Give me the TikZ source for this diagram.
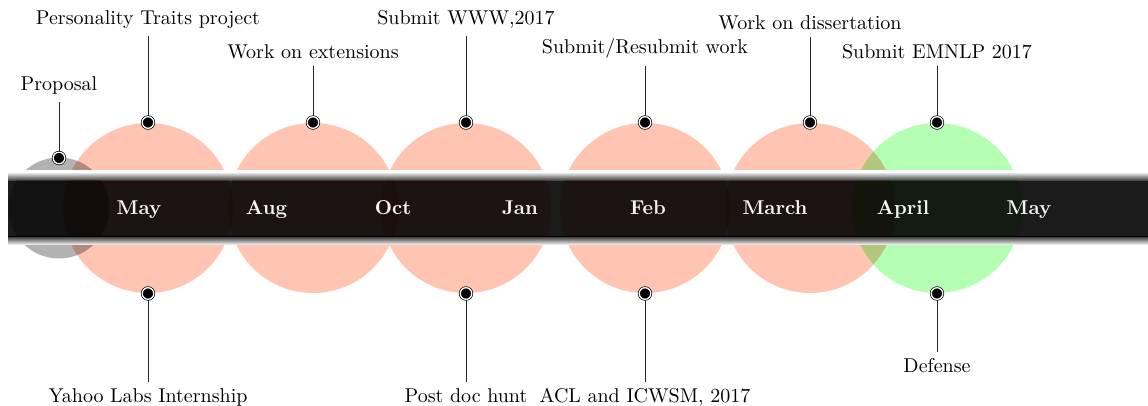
\documentclass[tikz,border=0pt]{standalone}
\definecolor{salmonc}{RGB}{255,197,178}
\definecolor{grayc}{RGB}{178,178,178}
\definecolor{greenc}{RGB}{180,255,180}
\definecolor{bandc}{RGB}{27,27,27}
\begin{document}
\begin{tikzpicture}[x=0.5pt,y=-0.5pt,
  disc/.style={circle, inner sep=0pt, minimum size=#1, draw=none},
  evdot/.style={circle, fill=black, draw=black, double=white, line width=0.35pt, double distance=0.65pt, inner sep=0pt, minimum size=5.8pt},
  evlab/.style={anchor=base, inner sep=3.33pt},
  month/.style={anchor=base, font=\bfseries, text=white!96!black},
  conn/.style={draw=black!85, line width=0.5pt}]
\useasboundingbox (0,0) rectangle (1148,406);
% circles
\begin{scope}[blend mode=multiply]
\node[disc=50.5pt, fill=grayc] (c0) at (59,208) {};
\node[disc=85pt, fill=salmonc] (c1) at (148,208) {};
\node[disc=85pt, fill=salmonc] (c2) at (313,208) {};
\node[disc=85pt, fill=salmonc] (c3) at (466,208) {};
\node[disc=85pt, fill=salmonc] (c4) at (645,208) {};
\node[disc=85pt, fill=salmonc] (c5) at (810,208) {};
\node[disc=85pt, fill=greenc] (c6) at (937,208) {};
\end{scope}
% band
\fill[white] (8,170) rectangle (1148,173.5);
\shade[top color=white!85!black, bottom color=black!80] (8,173.5) rectangle (1148,181);
\fill[bandc] (8,181) rectangle (1148,236);
\fill[black] (8,236) rectangle (1148,238);
\shade[top color=black!65, bottom color=white] (8,238) rectangle (1148,245);
% tint of the circles inside the band
\begin{scope}
\clip (8,181) rectangle (1148,236);
\begin{scope}[blend mode=multiply]
\fill[grayc] (c0.center) circle[radius=25.25pt];
\foreach \c in {c1,c2,c3,c4,c5} {\fill[salmonc] (\c.center) circle[radius=42.5pt];}
\fill[greenc] (c6.center) circle[radius=42.5pt];
\end{scope}
\end{scope}
% months
\node[month] (m1) at (139,214.5) {May};
\node[month] (m2) at (266.5,214.5) {Aug};
\node[month] (m3) at (393,214.5) {Oct};
\node[month] (m4) at (520,214.5) {Jan};
\node[month] (m5) at (648,214.5) {Feb};
\node[month] (m6) at (775,214.5) {March};
\node[month] (m7) at (903,214.5) {April};
\node[month] (m8) at (1029,214.5) {May};
% dots
\node[evdot] (d0) at (59,158) {};
\node[evdot] (t1) at (148,122.5) {};
\node[evdot] (t2) at (313,122.5) {};
\node[evdot] (t3) at (466,122.5) {};
\node[evdot] (t4) at (645,122.5) {};
\node[evdot] (t5) at (810,122.5) {};
\node[evdot] (t6) at (937,122.5) {};
\node[evdot] (b1) at (148,293.5) {};
\node[evdot] (b3) at (466,293.5) {};
\node[evdot] (b4) at (645,293.5) {};
\node[evdot] (b6) at (937,293.5) {};
% labels
\node[evlab] (l0) at (59,90.7) {Proposal};
\node[evlab] (l1) at (148,25) {Personality Traits project};
\node[evlab] (l2) at (313,59) {Work on extensions};
\node[evlab] (l3) at (466,25) {Submit WWW,2017};
\node[evlab] (l4) at (645,54) {Submit/Resubmit work};
\node[evlab] (l5) at (810,30) {Work on dissertation};
\node[evlab] (l6) at (937,59) {Submit EMNLP 2017};
\node[evlab] (k1) at (148,403) {Yahoo Labs Internship};
\node[evlab] (k3) at (466,403) {Post doc hunt};
\node[evlab] (k4) at (645,403) {ACL and ICWSM, 2017};
\node[evlab] (k6) at (937,373) {Defense};
% connectors
\draw[conn] (d0) -- (d0 |- l0.south);
\draw[conn] (t1) -- (t1 |- l1.south);
\draw[conn] (t2) -- (t2 |- l2.south);
\draw[conn] (t3) -- (t3 |- l3.south);
\draw[conn] (t4) -- (t4 |- l4.south);
\draw[conn] (t5) -- (t5 |- l5.south);
\draw[conn] (t6) -- (t6 |- l6.south);
\draw[conn] (b1) -- (b1 |- k1.north);
\draw[conn] (b3) -- (b3 |- k3.north);
\draw[conn] (b4) -- (b4 |- k4.north);
\draw[conn] (b6) -- (b6 |- k6.north);
\end{tikzpicture}
\end{document}
